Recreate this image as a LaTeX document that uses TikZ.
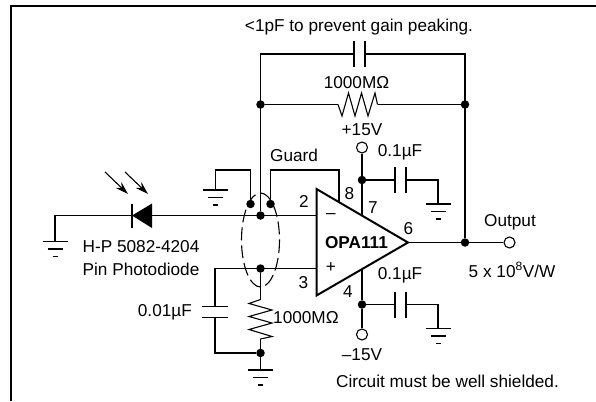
\documentclass[tikz,border=0pt]{standalone}
\usepackage{fontspec}
\setmainfont{Liberation Sans}
\usepackage{tikz}
\usetikzlibrary{arrows.meta}
\tikzset{
  wire/.style={line width=1.1pt},
  junction/.style={circle, fill=black, inner sep=0pt, minimum size=8.5pt},
  terminal/.style={circle, draw, fill=white, line width=1.1pt, inner sep=0pt, minimum size=11pt},
  lab/.style={inner sep=0pt, font=\fontsize{17.2}{20}\selectfont},
  groundsym/.pic={
    \coordinate (-top) at (0,0);
    \draw[wire] (-12.5,0) -- (12.5,0);
    \draw[wire] (-7.5,7.5) -- (7.5,7.5);
    \draw[wire] (-2.5,15) -- (2.5,15);
  },
  capsym/.pic={
    \coordinate (-a) at (-5.5,0);
    \coordinate (-b) at (5.5,0);
    \draw[wire] (-5.5,-13) -- (-5.5,13);
    \draw[wire] (5.5,-13) -- (5.5,13);
  },
  ressym/.pic={
    \coordinate (-a) at (0,0);
    \coordinate (-b) at (39.5,0);
    \draw[wire] (0,0) -- (4,11.5) -- (10.5,-11.5) -- (17,11.5) -- (23.5,-11.5) -- (30,11.5) -- (37,-11.5) -- (39.5,0);
  }
}
\begin{document}
\begin{tikzpicture}[x=1pt, y=-1pt]
\useasboundingbox (0,0) rectangle (596,401);

% Frame
\draw[line width=2pt] (10.5,401) -- (10.5,6) -- (596,6);

% Feedback junctions
\node[junction] (fbl) at (260.5,104.5) {};
\node[junction] (fbr) at (465,104.5) {};
\node[junction] (inv) at (260.5,215.5) {};
\node[junction] (ni) at (260.5,268.5) {};
\node[junction] (out) at (465,242.5) {};
\coordinate (topl) at (260.5,54);
\coordinate (topr) at (465,54);

% Feedback C and R
\pic (cf) at (359.5,54) {capsym};
\pic (rf) at (338,104.5) {ressym};
\draw[wire] (inv) -- (topl) -- (cf-a);
\draw[wire] (cf-b) -- (topr) -- (out);
\draw[wire] (fbl) -- (rf-a);
\draw[wire] (rf-b) -- (fbr);

% Photodiode input
\pic (gndd) at (55,241.5) {groundsym};
\coordinate (corner) at (55,215.5);
\coordinate (pinm) at (316.5,215.5);
\draw[wire] (gndd-top) -- (corner) -- (pinm);
\draw[wire] (132,204) -- (132,228);
\fill (132,215.5) -- (152,203.5) -- (152,228) -- cycle;
\draw[wire, -{Stealth[length=13pt, width=8pt]}] (105,172) -- (128,194);
\draw[wire, -{Stealth[length=13pt, width=8pt]}] (125,172) -- (148,194);
\node[lab, anchor=west] (part) at (82.5,247) {H-P 5082-4204};
\node[lab, anchor=west] (kind) at (82.5,269) {Pin Photodiode};

% Guard
\node[junction] (gda) at (250.5,204) {};
\node[junction] (gdb) at (270.5,204) {};
\pic (gndg) at (215.5,190) {groundsym};
\coordinate (gdc) at (215.5,170);
\coordinate (gdd) at (250.5,170);
\coordinate (gde) at (270.5,170);
\coordinate (gdf) at (339,170);
\coordinate (pin8) at (339,202);
\draw[wire] (gndg-top) -- (gdc) -- (gdd) -- (gda);
\draw[wire] (gdb) -- (gde) -- (gdf) -- (pin8);
\node[lab, anchor=west] (guard) at (270,155) {Guard};
\draw[wire, dash pattern=on 13pt off 5pt] (260.5,240) ellipse [x radius=19, y radius=47];

% Non-inverting input
\coordinate (pinp) at (316.5,268.5);
\coordinate (cnl) at (215,268.5);
\coordinate (cnb) at (215,353);
\node[junction] (nib) at (260.5,353) {};
\pic[rotate=-90] (rn) at (260.5,299.5) {ressym};
\pic[rotate=90] (cn) at (215,312) {capsym};
\pic (gndn) at (260.5,370) {groundsym};
\draw[wire] (pinp) -- (cnl) -- (cn-b);
\draw[wire] (cn-a) -- (cnb) -- (nib);
\draw[wire] (ni) -- (rn-a);
\draw[wire] (rn-b) -- (nib) -- (gndn-top);
\node[lab, anchor=east] (cnlab) at (192,312) {0.01µF};
\node[lab, anchor=west] (rnlab) at (273,318) {1000MΩ};

% Supplies
\node[terminal] (vp) at (362,147.5) {};
\node[junction] (vpj) at (362,180) {};
\coordinate (pin7) at (362,216);
\pic (cp) at (400.5,180) {capsym};
\coordinate (cpc) at (438,180);
\pic (gndp) at (438,204) {groundsym};
\draw[wire] (vp) -- (vpj) -- (pin7);
\draw[wire] (vpj) -- (cp-a);
\draw[wire] (cp-b) -- (cpc) -- (gndp-top);
\node[terminal] (vm) at (362,334.5) {};
\node[junction] (vmj) at (362,304.5) {};
\coordinate (pin4) at (362,269);
\pic (cm) at (400.5,304.5) {capsym};
\coordinate (cmc) at (438,304.5);
\pic (gndm) at (438,328.5) {groundsym};
\draw[wire] (vm) -- (vmj) -- (pin4);
\draw[wire] (vmj) -- (cm-a);
\draw[wire] (cm-b) -- (cmc) -- (gndm-top);

% Output
\coordinate (tip) at (408,242.5);
\node[terminal] (vout) at (509.5,242.5) {};
\draw[wire] (tip) -- (out) -- (vout);

% Amplifier
\draw[line width=2pt, fill=white, line join=miter] (316.5,189) -- (tip) -- (316.5,295.5) -- cycle;
\node[lab, font=\fontsize{17.2}{20}\selectfont\bfseries] (opa) at (356.5,243) {OPA111};
\node[lab] (minus) at (331,216) {–};
\node[lab] (plus) at (331,268) {+};

% Pin numbers
\node[lab] (n2) at (304,201.5) {2};
\node[lab] (n3) at (303.5,283) {3};
\node[lab] (n4) at (348,292) {4};
\node[lab] (n6) at (408.5,229) {6};
\node[lab] (n7) at (373,208) {7};
\node[lab] (n8) at (349.5,194) {8};

% Labels
\node[lab] (cflab) at (359,27) {<1pF to prevent gain peaking.};
\node[lab] (rflab) at (356.5,83) {1000MΩ};
\node[lab] (vplab) at (362,130) {+15V};
\node[lab] (vmlab) at (362,355) {–15V};
\node[lab] (cplab) at (400,152) {0.1µF};
\node[lab] (cmlab) at (400,275) {0.1µF};
\node[lab] (outlab) at (510,222) {Output};
\node[lab] (gainlab) at (512,270) {5 x 10\textsuperscript{8}V/W};
\node[lab] (note) at (447.5,381) {Circuit must be well shielded.};
\end{tikzpicture}
\end{document}
